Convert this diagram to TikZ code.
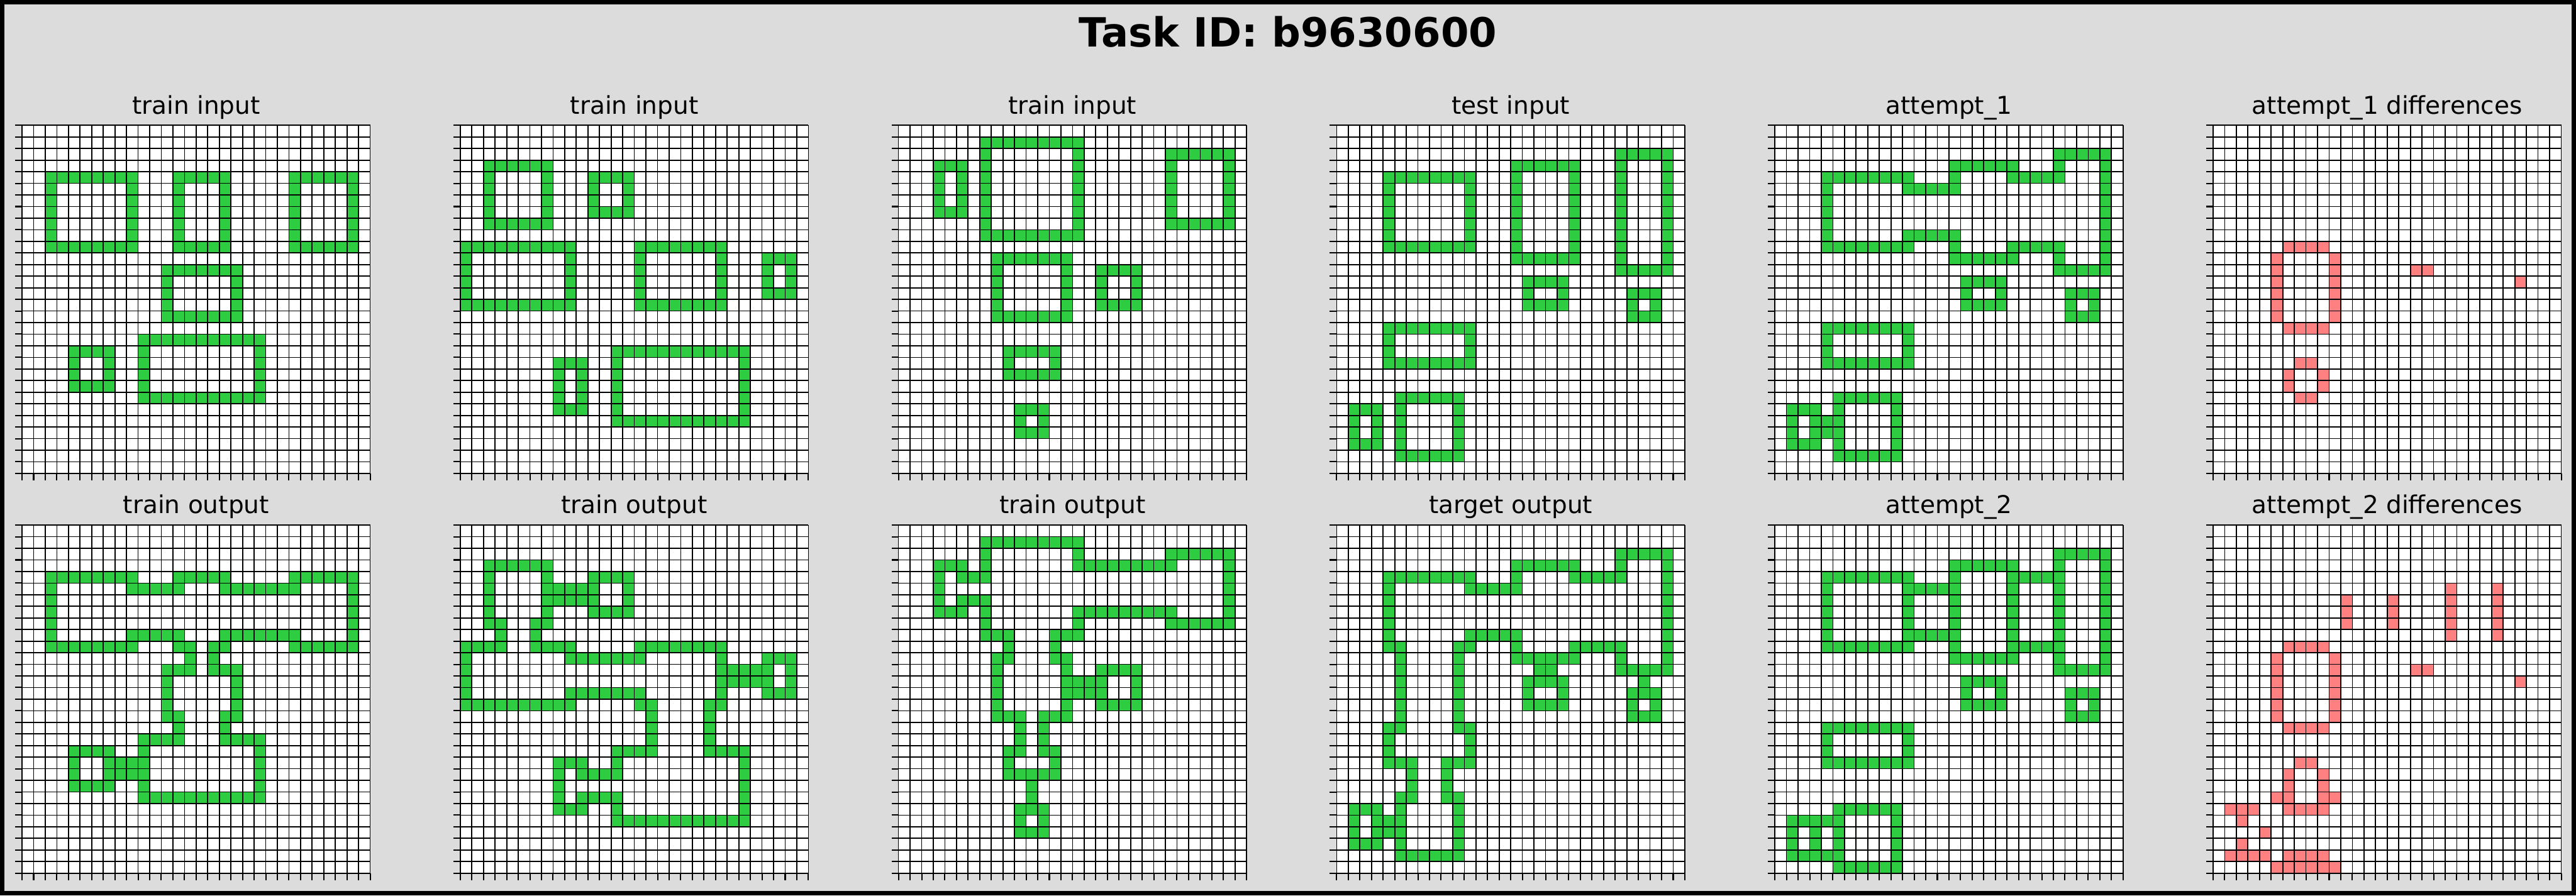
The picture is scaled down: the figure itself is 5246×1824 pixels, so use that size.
\documentclass[tikz,border=0pt]{standalone}
\usepackage{fontspec}
\setmainfont{DejaVu Sans}
\definecolor{bgc}{HTML}{DCDCDC}
\definecolor{arcgreen}{HTML}{2ECC40}
\definecolor{diffred}{HTML}{FF8080}
\newcommand\curcol{arcgreen}
\newcommand\rs[2]{\foreach \p/\q in {#2} {\fill[\curcol] (\p,#1) rectangle ({\q+1},{#1+1});}}
\newcommand\blk[4]{\fill[\curcol] (#2,#1) rectangle ({#4+1},{#3+1});}
\newcommand\hrect[4]{\blk{#1}{#2}{#1}{#4}\blk{#3}{#2}{#3}{#4}\blk{#1}{#2}{#3}{#2}\blk{#1}{#4}{#3}{#4}}
\newcommand\gridlines{%
  \foreach \k in {0,...,30} {\draw[gridline] (\k,0) -- (\k,30); \draw[gridline] (0,\k) -- (30,\k);
    \draw[tickline] (\k,30) -- (\k,30.6); \draw[tickline] (0,\k) -- (-0.6,\k);}}
\tikzset{
  gridline/.style={line width=0.55pt, black},
  tickline/.style={line width=0.65pt, black},
  gscope/.style={x=5.908pt, y=-5.908pt},
  subt/.style={anchor=base, font=\fontsize{12.5}{15}\selectfont, inner sep=0pt},
}
\begin{document}
\begin{tikzpicture}[x=0.25pt, y=-0.25pt]
\useasboundingbox (0,0) rectangle (5246,1824);
\fill[bgc] (0,0) rectangle (5246,1824);
\draw[line width=2.25pt] (4.5,4.5) rectangle (5241.5,1819.5);
\node[anchor=base, font=\fontsize{20.5}{24}\selectfont\bfseries, inner sep=0pt] (title) at (2623,95) {Task ID: b9630600};

% titles
\node[subt] (s1) at (399.4,232) {train input};
\node[subt] (s2) at (1291.8,232) {train input};
\node[subt] (s3) at (2184.2,232) {train input};
\node[subt] (s4) at (3076.6,232) {test input};
\node[subt] (s5) at (3969.0,232) {attempt\_1};
\node[subt] (s6) at (4861.4,232) {attempt\_1 differences};
\node[subt] (s7) at (399.4,1046) {train output};
\node[subt] (s8) at (1291.8,1046) {train output};
\node[subt] (s9) at (2184.2,1046) {train output};
\node[subt] (s10) at (3076.6,1046) {target output};
\node[subt] (s11) at (3969.0,1046) {attempt\_2};
\node[subt] (s12) at (4861.4,1046) {attempt\_2 differences};

% grid 1: train input
\begin{scope}[shift={(44.9,255.3)}, gscope]
\fill[white] (0,0) rectangle (30,30);
\hrect{4}{2}{10}{9}\hrect{4}{13}{10}{17}\hrect{4}{23}{10}{28}
\hrect{12}{12}{16}{18}\hrect{18}{10}{23}{20}\hrect{19}{4}{22}{7}
\gridlines
\end{scope}

% grid 2: train input
\begin{scope}[shift={(937.3,255.3)}, gscope]
\fill[white] (0,0) rectangle (30,30);
\hrect{3}{2}{8}{7}\hrect{4}{11}{7}{14}\hrect{10}{0}{15}{9}\hrect{10}{15}{15}{22}
\hrect{11}{26}{14}{28}\hrect{20}{8}{24}{10}\hrect{19}{13}{25}{24}
\gridlines
\end{scope}

% grid 3: train input
\begin{scope}[shift={(1829.7,255.3)}, gscope]
\fill[white] (0,0) rectangle (30,30);
\hrect{1}{7}{9}{15}\hrect{3}{3}{7}{5}\hrect{2}{23}{8}{28}\hrect{11}{8}{16}{14}
\hrect{12}{17}{15}{20}\hrect{19}{9}{21}{13}\hrect{24}{10}{26}{12}
\gridlines
\end{scope}

% grid 4: test input
\begin{scope}[shift={(2722.1,255.3)}, gscope]
\fill[white] (0,0) rectangle (30,30);
\hrect{4}{4}{10}{11}\hrect{3}{15}{11}{20}\hrect{2}{24}{12}{28}\hrect{13}{16}{15}{19}
\hrect{14}{25}{16}{27}\hrect{17}{4}{20}{11}\hrect{23}{5}{28}{10}\hrect{24}{1}{27}{3}
\gridlines
\end{scope}

% grid 5: attempt_1
\begin{scope}[shift={(3614.5,255.3)}, gscope]
\fill[white] (0,0) rectangle (30,30);
\rs{2}{24/28}
\rs{3}{15/20,24/24,28/28}
\rs{4}{4/11,15/15,20/24,28/28}
\rs{5}{4/4,11/15,28/28}
\rs{6}{4/4,28/28}
\rs{7}{4/4,28/28}
\rs{8}{4/4,28/28}
\rs{9}{4/4,11/15,28/28}
\rs{10}{4/11,15/15,20/24,28/28}
\rs{11}{15/20,24/24,28/28}
\rs{12}{24/28}
\rs{13}{16/19}
\rs{14}{16/16,19/19,25/27}
\rs{15}{16/19,25/25,27/27}
\rs{16}{25/27}
\rs{17}{4/11}
\rs{18}{4/4,11/11}
\rs{19}{4/4,11/11}
\rs{20}{4/11}
\rs{23}{5/10}
\rs{24}{1/3,5/5,10/10}
\rs{25}{1/1,3/5,10/10}
\rs{26}{1/1,3/5,10/10}
\rs{27}{1/3,5/5,10/10}
\rs{28}{5/10}
\gridlines
\end{scope}

% grid 6: attempt_1 differences
\begin{scope}[shift={(4506.9,255.3)}, gscope]
\fill[white] (0,0) rectangle (30,30);
\renewcommand\curcol{diffred}
\rs{10}{6/9}
\rs{11}{5/5,10/10}
\rs{12}{5/5,10/10,17/18}
\rs{13}{5/5,10/10,26/26}
\rs{14}{5/5,10/10}
\rs{15}{5/5,10/10}
\rs{16}{5/5,10/10}
\rs{17}{6/9}
\rs{20}{7/8}
\rs{21}{6/6,9/9}
\rs{22}{6/6,9/9}
\rs{23}{7/8}
\gridlines
\end{scope}

% grid 7: train output
\begin{scope}[shift={(44.9,1069.6)}, gscope]
\fill[white] (0,0) rectangle (30,30);
\rs{4}{2/9,13/17,23/28}
\rs{5}{2/2,9/13,17/23,28/28}
\rs{6}{2/2,28/28}
\rs{7}{2/2,28/28}
\rs{8}{2/2,28/28}
\rs{9}{2/2,9/13,17/23,28/28}
\rs{10}{2/9,13/14,16/17,23/28}
\rs{11}{14/14,16/16}
\rs{12}{12/14,16/18}
\rs{13}{12/12,18/18}
\rs{14}{12/12,18/18}
\rs{15}{12/12,18/18}
\rs{16}{12/13,17/18}
\rs{17}{13/13,17/17}
\rs{18}{10/13,17/20}
\rs{19}{4/7,10/10,20/20}
\rs{20}{4/4,7/10,20/20}
\rs{21}{4/4,7/10,20/20}
\rs{22}{4/7,10/10,20/20}
\rs{23}{10/20}
\gridlines
\end{scope}

% grid 8: train output
\begin{scope}[shift={(937.3,1069.6)}, gscope]
\fill[white] (0,0) rectangle (30,30);
\rs{3}{2/7}
\rs{4}{2/2,7/7,11/14}
\rs{5}{2/2,7/11,14/14}
\rs{6}{2/2,7/11,14/14}
\rs{7}{2/2,7/7,11/14}
\rs{8}{2/3,6/7}
\rs{9}{3/3,6/6}
\rs{10}{0/3,6/9,15/22}
\rs{11}{0/0,9/15,22/22,26/28}
\rs{12}{0/0,22/26,28/28}
\rs{13}{0/0,22/26,28/28}
\rs{14}{0/0,9/15,22/22,26/28}
\rs{15}{0/9,15/16,21/22}
\rs{16}{16/16,21/21}
\rs{17}{16/16,21/21}
\rs{18}{16/16,21/21}
\rs{19}{13/16,21/24}
\rs{20}{8/10,13/13,24/24}
\rs{21}{8/8,10/13,24/24}
\rs{22}{8/8,24/24}
\rs{23}{8/8,10/13,24/24}
\rs{24}{8/10,13/13,24/24}
\rs{25}{13/24}
\gridlines
\end{scope}

% grid 9: train output
\begin{scope}[shift={(1829.7,1069.6)}, gscope]
\fill[white] (0,0) rectangle (30,30);
\rs{1}{7/15}
\rs{2}{7/7,15/15,23/28}
\rs{3}{3/5,7/7,15/23,28/28}
\rs{4}{3/3,5/7,28/28}
\rs{5}{3/3,28/28}
\rs{6}{3/3,5/7,28/28}
\rs{7}{3/5,7/7,15/23,28/28}
\rs{8}{7/7,15/15,23/28}
\rs{9}{7/9,13/15}
\rs{10}{9/9,13/13}
\rs{11}{8/9,13/14}
\rs{12}{8/8,14/14,17/20}
\rs{13}{8/8,14/17,20/20}
\rs{14}{8/8,14/17,20/20}
\rs{15}{8/8,14/14,17/20}
\rs{16}{8/10,12/14}
\rs{17}{10/10,12/12}
\rs{18}{10/10,12/12}
\rs{19}{9/10,12/13}
\rs{20}{9/9,13/13}
\rs{21}{9/13}
\rs{22}{11/11}
\rs{23}{11/11}
\rs{24}{10/12}
\rs{25}{10/10,12/12}
\rs{26}{10/12}
\gridlines
\end{scope}

% grid 10: target output
\begin{scope}[shift={(2722.1,1069.6)}, gscope]
\fill[white] (0,0) rectangle (30,30);
\rs{2}{24/28}
\rs{3}{15/20,24/24,28/28}
\rs{4}{4/11,15/15,20/24,28/28}
\rs{5}{4/4,11/15,28/28}
\rs{6}{4/4,28/28}
\rs{7}{4/4,28/28}
\rs{8}{4/4,28/28}
\rs{9}{4/4,11/15,28/28}
\rs{10}{4/5,10/11,15/15,20/24,28/28}
\rs{11}{5/5,10/10,15/20,24/24,28/28}
\rs{12}{5/5,10/10,17/18,24/28}
\rs{13}{5/5,10/10,16/19,26/26}
\rs{14}{5/5,10/10,16/16,19/19,25/27}
\rs{15}{5/5,10/10,16/19,25/25,27/27}
\rs{16}{5/5,10/10,25/27}
\rs{17}{4/5,10/11}
\rs{18}{4/4,11/11}
\rs{19}{4/4,11/11}
\rs{20}{4/6,9/11}
\rs{21}{6/6,9/9}
\rs{22}{6/6,9/9}
\rs{23}{5/6,9/10}
\rs{24}{1/3,5/5,10/10}
\rs{25}{1/1,3/5,10/10}
\rs{26}{1/1,3/5,10/10}
\rs{27}{1/3,5/5,10/10}
\rs{28}{5/10}
\gridlines
\end{scope}

% grid 11: attempt_2
\begin{scope}[shift={(3614.5,1069.6)}, gscope]
\fill[white] (0,0) rectangle (30,30);
\rs{2}{24/28}
\rs{3}{15/20,24/24,28/28}
\rs{4}{4/11,15/15,20/24,28/28}
\rs{5}{4/4,11/15,20/20,24/24,28/28}
\rs{6}{4/4,11/11,15/15,20/20,24/24,28/28}
\rs{7}{4/4,11/11,15/15,20/20,24/24,28/28}
\rs{8}{4/4,11/11,15/15,20/20,24/24,28/28}
\rs{9}{4/4,11/15,20/20,24/24,28/28}
\rs{10}{4/11,15/15,20/24,28/28}
\rs{11}{15/20,24/24,28/28}
\rs{12}{24/28}
\rs{13}{16/19}
\rs{14}{16/16,19/19,25/27}
\rs{15}{16/19,25/25,27/27}
\rs{16}{25/27}
\rs{17}{4/11}
\rs{18}{4/4,11/11}
\rs{19}{4/4,11/11}
\rs{20}{4/11}
\rs{24}{5/10}
\rs{25}{1/5,10/10}
\rs{26}{1/1,3/3,5/5,10/10}
\rs{27}{1/1,3/3,5/5,10/10}
\rs{28}{1/5,10/10}
\rs{29}{5/10}
\gridlines
\end{scope}

% grid 12: attempt_2 differences
\begin{scope}[shift={(4506.9,1069.6)}, gscope]
\fill[white] (0,0) rectangle (30,30);
\renewcommand\curcol{diffred}
\rs{5}{20/20,24/24}
\rs{6}{11/11,15/15,20/20,24/24}
\rs{7}{11/11,15/15,20/20,24/24}
\rs{8}{11/11,15/15,20/20,24/24}
\rs{9}{20/20,24/24}
\rs{10}{6/9}
\rs{11}{5/5,10/10}
\rs{12}{5/5,10/10,17/18}
\rs{13}{5/5,10/10,26/26}
\rs{14}{5/5,10/10}
\rs{15}{5/5,10/10}
\rs{16}{5/5,10/10}
\rs{17}{6/9}
\rs{20}{7/8}
\rs{21}{6/6,9/9}
\rs{22}{6/6,9/9}
\rs{23}{5/6,9/10}
\rs{24}{1/3,6/9}
\rs{25}{2/2}
\rs{26}{4/4}
\rs{27}{2/2}
\rs{28}{1/4,6/9}
\rs{29}{5/10}
\gridlines
\end{scope}
\end{tikzpicture}
\end{document}
